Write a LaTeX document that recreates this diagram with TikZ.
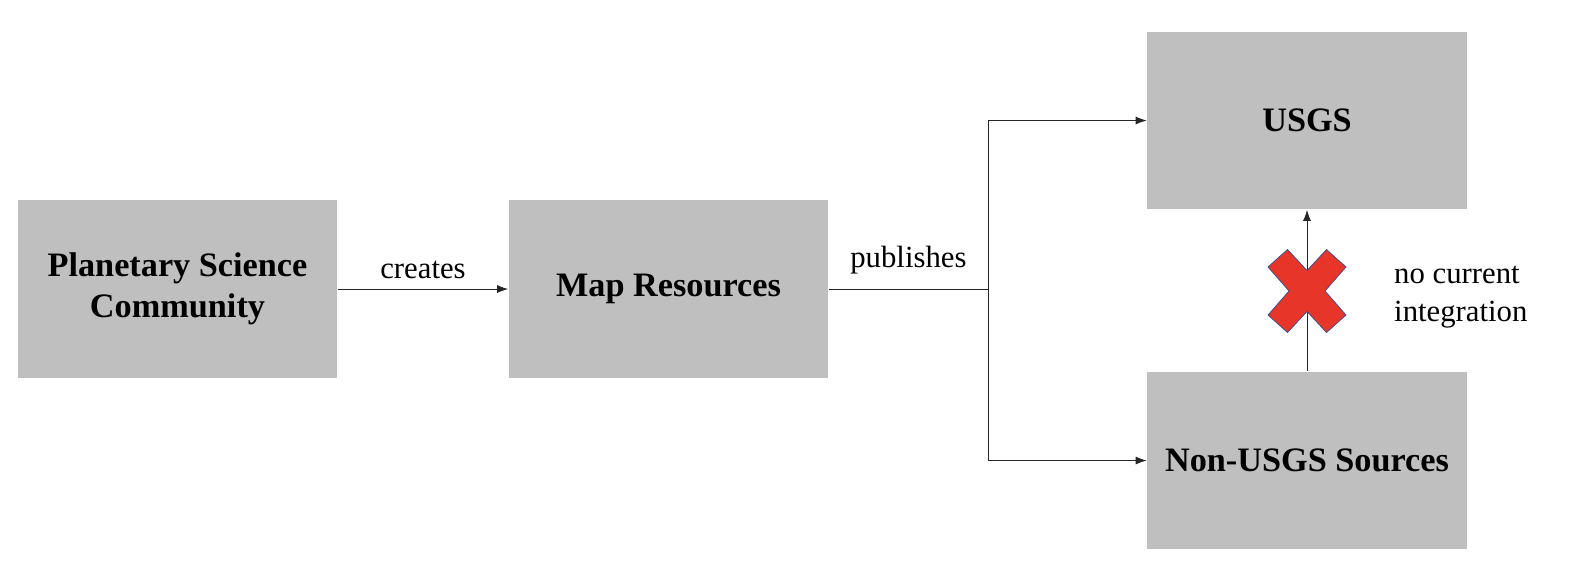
\documentclass[tikz,border=0pt]{standalone}
\usepackage{fontspec}
\setmainfont{Liberation Serif}
\usepackage{xcolor}
\usetikzlibrary{arrows.meta, positioning}

\definecolor{boxgray}{HTML}{BFBFBF}
\definecolor{crossred}{HTML}{E8352A}
\definecolor{crossedge}{HTML}{2F4F8F}

\begin{document}
\begin{tikzpicture}[
    x=0.02cm, y=-0.02cm,
    entity/.style={rectangle, fill=boxgray, minimum width=6.4cm, minimum height=3.56cm, font=\fontsize{19.5}{23.5}\selectfont\bfseries, align=center},
    note/.style={font=\fontsize{17.5}{21.5}\selectfont},
    arrow/.style={-{Latex[length=0.22cm, width=0.16cm]}, line width=0.5pt, draw=black!85},
    link/.style={line width=0.5pt, draw=black!85}
]
\useasboundingbox (0,0) rectangle (1574,586);

\node[entity] (planet) at (177.5,289) {Planetary Science\\Community};
\node[entity] (mapres) at (668.5,289) {Map Resources};
\node[entity] (usgs) at (1307,120.5) {USGS};
\node[entity] (nonusgs) at (1307,460.5) {Non-USGS Sources};
\coordinate (split) at (988,289);

\draw[arrow] (planet) -- node[note, above, yshift=2pt] {creates} (mapres);
\draw[link] (mapres) -- node[note, above, yshift=5pt] {publishes} (split);
\draw[arrow] (split) |- (usgs);
\draw[arrow] (split) |- (nonusgs);
\draw[arrow] (nonusgs) -- (usgs);

% red cross over the link
\begin{scope}[shift={(1307,291)}]
  \draw[fill=crossred, draw=crossedge, line width=0.4pt]
    (-39,-24) -- (-19.5,-41.5) -- (0,-20.5) -- (19.5,-41.5) -- (39,-24) -- (18,0)
    -- (39,24) -- (19.5,41.5) -- (0,20.5) -- (-19.5,41.5) -- (-39,24) -- (-18,0) -- cycle;
\end{scope}

\node[note, anchor=west, align=left] (nointeg) at (1388,297) {no current\\integration};

\end{tikzpicture}
\end{document}
